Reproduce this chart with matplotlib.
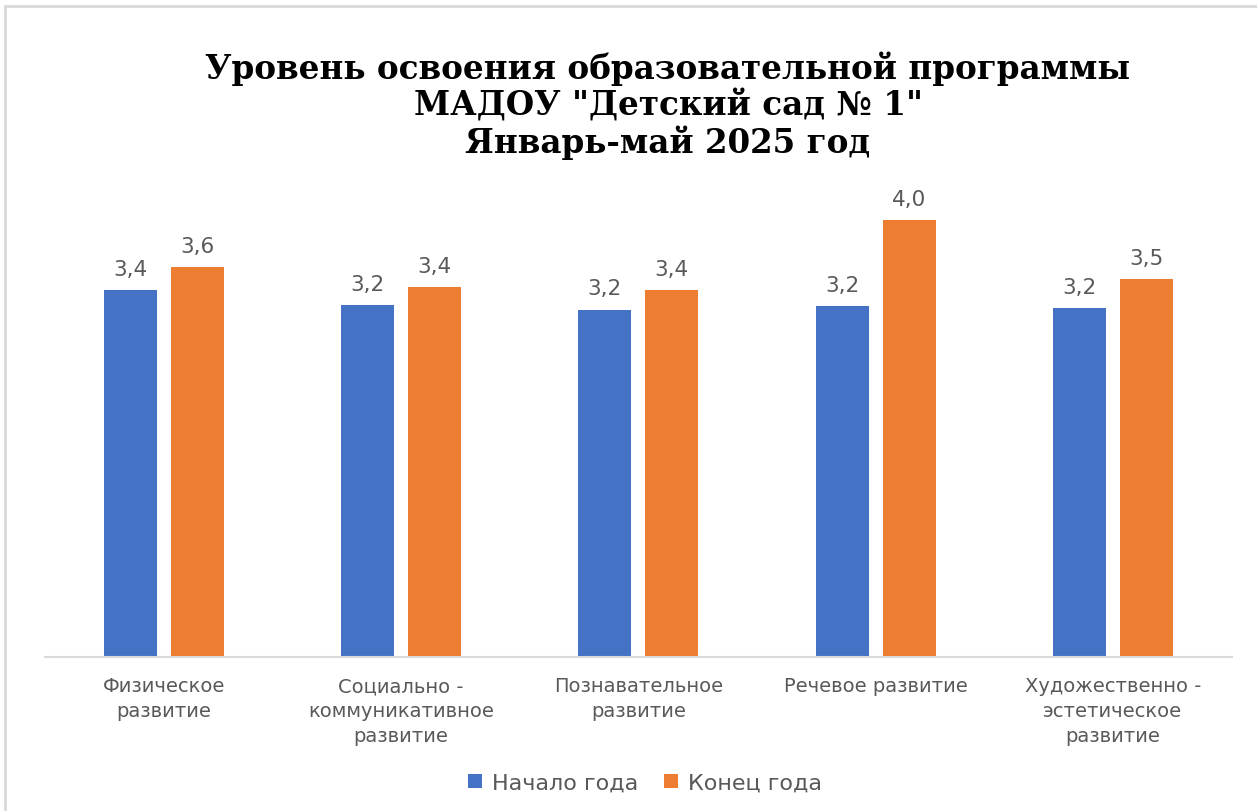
import matplotlib.pyplot as plt
import numpy as np
from matplotlib.patches import Rectangle

# data
categories = ['Физическое\nразвитие', 'Социально -\nкоммуникативное\nразвитие',
              'Познавательное\nразвитие', 'Речевое развитие',
              'Художественно -\nэстетическое\nразвитие']
start_year = [3.36, 3.22, 3.18, 3.21, 3.19]
end_year = [3.57, 3.39, 3.36, 4.0, 3.46]
series_names = ['Начало года', 'Конец года']

blue = '#4472C4'
orange = '#ED7D31'
grey = '#595959'

fig = plt.figure(figsize=(12.57, 8.12), dpi=100)
ax = fig.add_axes([0.0358, 0.1897, 0.944, 0.6054])

x = np.arange(len(categories))
w = 0.223
off = 0.141
b1 = ax.bar(x - off, start_year, w, color=blue, label=series_names[0])
b2 = ax.bar(x + off, end_year, w, color=orange, label=series_names[1])

for bars in (b1, b2):
    for r in bars:
        v = r.get_height()
        ax.annotate(('%.1f' % v).replace('.', ','), (r.get_x() + r.get_width() / 2, v),
                    xytext=(0, 8), textcoords='offset points', ha='center', va='bottom',
                    fontsize=15.5, color=grey, family='DejaVu Sans')

ax.set_xlim(-0.5, len(categories) - 0.5)
ax.set_ylim(0, 4.5)
ax.set_yticks([])
for s in ['top', 'right', 'left']:
    ax.spines[s].set_visible(False)
ax.spines['bottom'].set_color('#D9D9D9')
ax.spines['bottom'].set_linewidth(1.5)
ax.set_xticks(x)
ax.set_xticklabels(categories, fontsize=14, color=grey, family='DejaVu Sans', linespacing=1.4)
ax.tick_params(axis='x', length=0, pad=14)

leg = fig.legend(loc='center', bbox_to_anchor=(645 / 1257, 1 - 784 / 812), ncol=2, frameon=False,
                 prop={'family': 'DejaVu Sans', 'size': 16}, handlelength=0.6, handleheight=0.6,
                 columnspacing=1.2, handletextpad=0.45)
for t in leg.get_texts():
    t.set_color(grey)

fig.text(668 / 1257, 1 - 106 / 812,
         'Уровень освоения образовательной программы\nМАДОУ "Детский сад № 1"\nЯнварь-май 2025 год',
         ha='center', va='center', fontsize=23.5, fontweight='bold', family='DejaVu Serif',
         linespacing=1.12)

fig.patches.append(Rectangle((5 / 1257, -0.1), 1.2, 1 - 7 / 812 + 0.1, transform=fig.transFigure,
                             fill=False, edgecolor='#D9D9D9', linewidth=2))

fig.savefig('out.png', dpi=100)
